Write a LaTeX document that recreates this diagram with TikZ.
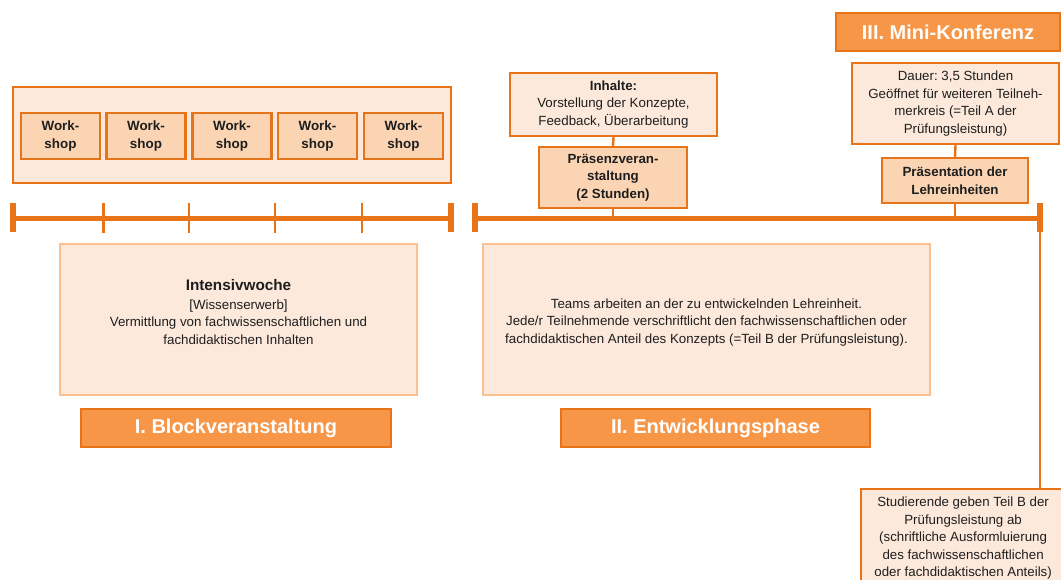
\documentclass[tikz,border=0pt]{standalone}
\usepackage{fontspec}
\setmainfont{Liberation Sans}
\frenchspacing
\definecolor{ordark}{HTML}{E8741A}
\definecolor{orhead}{HTML}{F79646}
\definecolor{orlight}{HTML}{FDE9DB}
\definecolor{ormid}{HTML}{FBD4B4}
\definecolor{orpale}{HTML}{FAC090}
\definecolor{txt}{HTML}{1E1E1E}
\tikzset{
  x=1pt, y=-1pt,
  every node/.style={inner sep=0pt, text=txt, align=center,
    font=\fontsize{13.3}{17.5}\selectfont},
  frame/.style={draw=ordark, line width=1.8pt, fill=orlight},
  wsbox/.style={draw=ordark, line width=2.2pt, fill=ormid,
    minimum width=79pt, minimum height=46pt,
    font=\fontsize{13.4}{18}\selectfont\bfseries},
  infobox/.style={draw=ordark, line width=2.2pt, fill=orlight},
  keybox/.style={draw=ordark, line width=2.2pt, fill=ormid,
    font=\fontsize{13.3}{17.5}\selectfont\bfseries},
  phasebox/.style={draw=orpale, line width=2pt, fill=orlight},
  headbox/.style={draw=ordark, line width=1.5pt, fill=orhead, text=white,
    minimum height=38pt, font=\fontsize{20}{22}\selectfont\bfseries},
  tline/.style={draw=ordark, line width=5pt},
  tcap/.style={draw=ordark, line width=6pt},
  ttick/.style={draw=ordark, line width=2.4pt},
  link/.style={draw=ordark, line width=2.4pt},
}
\begin{document}
\begin{tikzpicture}
\useasboundingbox (0,0) rectangle (1061,579);
\clip (0,0) rectangle (1061,579);

% ---- I. Blockveranstaltung: workshop week ----
\node[frame, minimum width=438pt, minimum height=96pt] (wsframe) at (232,135) {};
\node[wsbox] (ws1) at (60.5,136) {Work-\\shop};
\node[wsbox] (ws2) at (146,136) {Work-\\shop};
\node[wsbox] (ws3) at (232,136) {Work-\\shop};
\node[wsbox] (ws4) at (317.5,136) {Work-\\shop};
\node[wsbox] (ws5) at (403.5,136) {Work-\\shop};

% timeline of the first phase
\coordinate (a0) at (13,218);
\coordinate (a5) at (451,218);
\draw[tline] (a0) -- (a5);
\draw[tcap] ([yshift=-14]a0) -- ([yshift=15]a0);
\draw[tcap] ([yshift=-14]a5) -- ([yshift=15]a5);
\foreach \i/\xx in {1/103.5, 2/189, 3/275, 4/362} {
  \coordinate (a\i) at (\xx,218);
  \draw[ttick] ([yshift=-15]a\i) -- ([yshift=15]a\i);
}

\node[phasebox, minimum width=357pt, minimum height=151pt] (intens) at (238.5,319.5) {};
\node (intenstext) at (238.5,312)
  {{\fontsize{15.3}{19}\selectfont\bfseries Intensivwoche}\\[1pt]
   [Wissenserwerb]\\
   Vermittlung von fachwissenschaftlichen und\\
   fachdidaktischen Inhalten};
\node[headbox, minimum width=310pt] (block) at (236,428) {I. Blockveranstaltung};

% ---- II. Entwicklungsphase ----
\coordinate (b0) at (474.5,218);
\coordinate (b1) at (1040,218);
\draw[tline] (b0) -- (b1);
\draw[tcap] ([yshift=-14]b0) -- ([yshift=15]b0);
\draw[tcap] ([yshift=-14]b1) -- ([yshift=15]b1);

\node[infobox, minimum width=207pt, minimum height=63pt] (inh) at (613.5,104.5)
  {\textbf{Inhalte:}\\Vorstellung der Konzepte,\\Feedback, Überarbeitung};
\node[keybox, minimum width=148pt, minimum height=61pt] (praes) at (613,177.5)
  {Präsenzveran-\\staltung\\(2 Stunden)};
\draw[link] (inh.south) -- (praes.north);
\draw[link] (praes.south) -- (praes.south |- b0);

\node[phasebox, minimum width=447pt, minimum height=151pt] (teams) at (706.5,319.5) {};
\node (teamstext) at (706.5,322.5)
  {Teams arbeiten an der zu entwickelnden Lehreinheit.\\
   Jede/r Teilnehmende verschriftlicht den fachwissenschaftlichen oder\\
   fachdidaktischen Anteil des Konzepts (=Teil B der Prüfungsleistung).};
\node[headbox, minimum width=309pt] (entw) at (715.5,428) {II. Entwicklungsphase};

% ---- III. Mini-Konferenz ----
\node[headbox, minimum width=224pt] (mini) at (948,32) {III. Mini-Konferenz};
\node[infobox, minimum width=207pt, minimum height=81pt] (dauer) at (955.5,103.5)
  {Dauer: 3,5 Stunden\\Geöffnet für weiteren Teilneh-\\merkreis (=Teil A der\\Prüfungsleistung)};
\node[keybox, minimum width=146pt, minimum height=45pt] (praes2) at (955,180.5)
  {Präsentation der\\Lehreinheiten};
\draw[link] (dauer.south) -- (praes2.north);
\draw[link] (praes2.south) -- (praes2.south |- b0);

% submission of part B after the conference
\node[infobox, anchor=north west] (stud) at (860,488)
  {\parbox[c][120pt][t]{204pt}{\centering\vspace{8pt}%
   Studierende geben Teil B der\\
   Prüfungsleistung ab\\
   (schriftliche Ausformluierung\\
   des fachwissenschaftlichen\\
   oder fachdidaktischen Anteils)}};
\draw[link] (b1) -- (b1 |- stud.north);
\end{tikzpicture}
\end{document}
